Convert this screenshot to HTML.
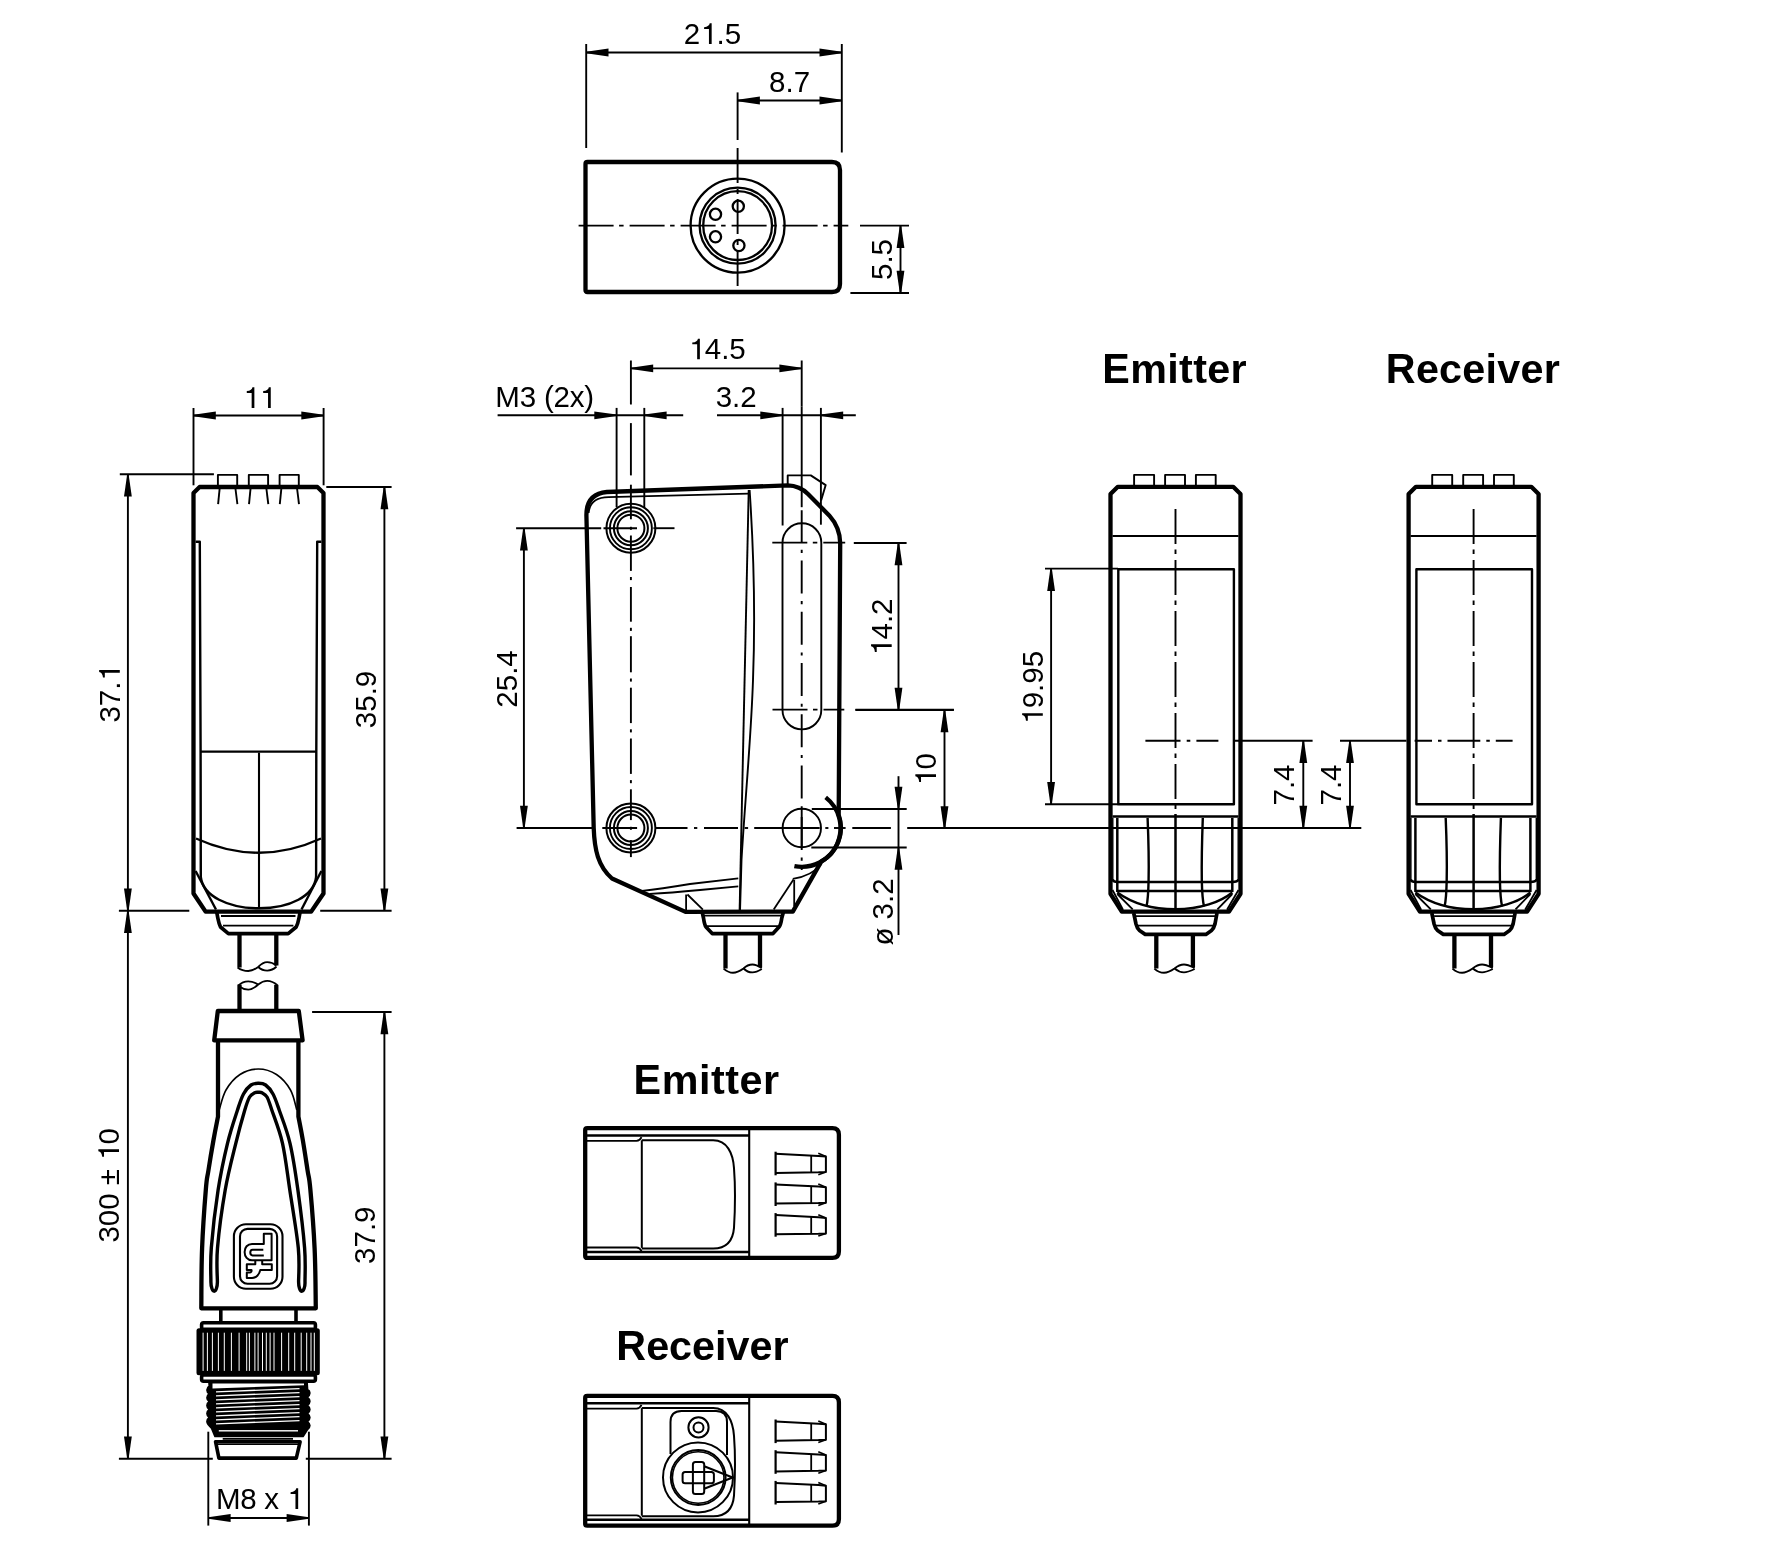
<!DOCTYPE html>
<html><head><meta charset="utf-8"><style>
html,body{margin:0;padding:0;background:#fff;overflow:hidden;}
svg{display:block;filter:grayscale(100%);}
text{font-family:"Liberation Sans",sans-serif;fill:#000;stroke:none;}
</style></head><body>
<svg width="1772" height="1559" viewBox="0 0 1772 1559" fill="none" stroke="#000" stroke-linejoin="round">
<rect x="0" y="0" width="1772" height="1559" fill="#fff" stroke="none"/>
<line x1="586.20" y1="44.00" x2="586.20" y2="148.00" stroke-width="1.9" />
<line x1="841.80" y1="44.00" x2="841.80" y2="152.50" stroke-width="1.9" />
<line x1="586.20" y1="52.50" x2="841.80" y2="52.50" stroke-width="1.9" />
<polygon points="586.20,51.80 608.50,48.60 608.50,56.40 586.20,53.20" fill="#000" stroke="none"/>
<polygon points="841.80,51.80 819.50,48.60 819.50,56.40 841.80,53.20" fill="#000" stroke="none"/>
<g transform="translate(712.40,44.00) scale(1,1.0)"><text x="-28.70" y="0" font-size="29.5">2 .5</text><path transform="translate(-12.30,0) scale(29.5)" d="M0.300,0 L0.392,0 L0.392,-0.70 L0.327,-0.70 C0.312,-0.632 0.262,-0.578 0.135,-0.570 L0.135,-0.508 L0.300,-0.508 Z" fill="#000" stroke="none"/></g>
<line x1="737.60" y1="92.40" x2="737.60" y2="140.00" stroke-width="1.9" />
<line x1="737.60" y1="100.50" x2="841.80" y2="100.50" stroke-width="1.9" />
<polygon points="737.60,99.80 759.90,96.60 759.90,104.40 737.60,101.20" fill="#000" stroke="none"/>
<polygon points="841.80,99.80 819.50,96.60 819.50,104.40 841.80,101.20" fill="#000" stroke="none"/>
<g transform="translate(789.60,91.80) scale(1,1.0)"><text x="-20.50" y="0" font-size="29.5">8.7</text></g>
<path d="M587.5,162 L832,162 Q840,162 840,170 L840,284 Q840,292 832,292 L587.5,292 Q585.5,292 585.5,290 L585.5,164 Q585.5,162 587.5,162 Z" stroke-width="4.3" />
<line x1="578.60" y1="225.60" x2="848.30" y2="225.60" stroke-width="1.9" stroke-dasharray="35 5.5 4.5 6" stroke-dashoffset="0"/>
<line x1="737.60" y1="148.00" x2="737.60" y2="183.00" stroke-width="1.9" />
<line x1="737.60" y1="189.00" x2="737.60" y2="194.00" stroke-width="1.9" />
<line x1="737.60" y1="199.00" x2="737.60" y2="234.00" stroke-width="1.9" />
<line x1="737.60" y1="240.00" x2="737.60" y2="245.00" stroke-width="1.9" />
<line x1="737.60" y1="251.00" x2="737.60" y2="286.00" stroke-width="1.9" />
<line x1="737.60" y1="291.00" x2="737.60" y2="294.00" stroke-width="1.9" />
<circle cx="737.60" cy="225.60" r="47.00" stroke-width="2.3"/>
<circle cx="737.60" cy="225.60" r="38.00" stroke-width="2.3"/>
<circle cx="737.60" cy="225.60" r="34.40" stroke-width="2.3"/>
<circle cx="738.30" cy="206.30" r="5.60" stroke-width="2.3"/>
<circle cx="715.50" cy="214.30" r="5.60" stroke-width="2.3"/>
<circle cx="715.50" cy="236.80" r="5.60" stroke-width="2.3"/>
<circle cx="738.90" cy="245.50" r="5.60" stroke-width="2.3"/>
<line x1="860.00" y1="225.60" x2="909.00" y2="225.60" stroke-width="1.9" />
<line x1="850.40" y1="293.00" x2="909.00" y2="293.00" stroke-width="1.9" />
<line x1="900.50" y1="225.60" x2="900.50" y2="293.00" stroke-width="1.9" />
<polygon points="899.80,225.60 896.60,247.90 904.40,247.90 901.20,225.60" fill="#000" stroke="none"/>
<polygon points="899.80,293.00 896.60,270.70 904.40,270.70 901.20,293.00" fill="#000" stroke="none"/>
<g transform="translate(892.00,259.50) rotate(-90) scale(1,1.0)"><text x="-20.50" y="0" font-size="29.5">5.5</text></g>
<line x1="193.50" y1="408.00" x2="193.50" y2="485.30" stroke-width="1.9" />
<line x1="323.60" y1="408.00" x2="323.60" y2="485.30" stroke-width="1.9" />
<line x1="193.50" y1="415.50" x2="323.60" y2="415.50" stroke-width="1.9" />
<polygon points="193.50,414.80 215.80,411.60 215.80,419.40 193.50,416.20" fill="#000" stroke="none"/>
<polygon points="323.60,414.80 301.30,411.60 301.30,419.40 323.60,416.20" fill="#000" stroke="none"/>
<g transform="translate(259.20,407.90) scale(1,1.0)"><text x="-16.40" y="0" font-size="29.5">  </text><path transform="translate(-16.40,0) scale(29.5)" d="M0.300,0 L0.392,0 L0.392,-0.70 L0.327,-0.70 C0.312,-0.632 0.262,-0.578 0.135,-0.570 L0.135,-0.508 L0.300,-0.508 Z" fill="#000" stroke="none"/><path transform="translate(0.00,0) scale(29.5)" d="M0.300,0 L0.392,0 L0.392,-0.70 L0.327,-0.70 C0.312,-0.632 0.262,-0.578 0.135,-0.570 L0.135,-0.508 L0.300,-0.508 Z" fill="#000" stroke="none"/></g>
<line x1="119.80" y1="474.20" x2="213.90" y2="474.20" stroke-width="1.9" />
<line x1="326.30" y1="487.00" x2="391.60" y2="487.00" stroke-width="1.9" />
<line x1="118.90" y1="910.70" x2="189.30" y2="910.70" stroke-width="1.9" />
<line x1="320.20" y1="910.70" x2="391.60" y2="910.70" stroke-width="1.9" />
<line x1="127.90" y1="474.20" x2="127.90" y2="910.70" stroke-width="1.9" />
<polygon points="127.20,474.20 124.00,496.50 131.80,496.50 128.60,474.20" fill="#000" stroke="none"/>
<polygon points="127.20,910.70 124.00,888.40 131.80,888.40 128.60,910.70" fill="#000" stroke="none"/>
<g transform="translate(119.80,693.90) rotate(-90) scale(1,1.0)"><text x="-28.70" y="0" font-size="29.5">37. </text><path transform="translate(12.30,0) scale(29.5)" d="M0.300,0 L0.392,0 L0.392,-0.70 L0.327,-0.70 C0.312,-0.632 0.262,-0.578 0.135,-0.570 L0.135,-0.508 L0.300,-0.508 Z" fill="#000" stroke="none"/></g>
<line x1="384.40" y1="487.00" x2="384.40" y2="910.70" stroke-width="1.9" />
<polygon points="383.70,487.00 380.50,509.30 388.30,509.30 385.10,487.00" fill="#000" stroke="none"/>
<polygon points="383.70,910.70 380.50,888.40 388.30,888.40 385.10,910.70" fill="#000" stroke="none"/>
<g transform="translate(376.00,699.50) rotate(-90) scale(1,1.0)"><text x="-28.70" y="0" font-size="29.5">35.9</text></g>
<line x1="127.90" y1="910.70" x2="127.90" y2="1458.80" stroke-width="1.9" />
<polygon points="127.20,910.70 124.00,933.00 131.80,933.00 128.60,910.70" fill="#000" stroke="none"/>
<polygon points="127.20,1458.80 124.00,1436.50 131.80,1436.50 128.60,1458.80" fill="#000" stroke="none"/>
<g transform="translate(119.00,1185.30) rotate(-90) scale(1,1.0)"><text x="-57.30" y="0" font-size="29.5">300 ±  0</text><path transform="translate(24.50,0) scale(29.5)" d="M0.300,0 L0.392,0 L0.392,-0.70 L0.327,-0.70 C0.312,-0.632 0.262,-0.578 0.135,-0.570 L0.135,-0.508 L0.300,-0.508 Z" fill="#000" stroke="none"/></g>
<line x1="312.10" y1="1012.00" x2="391.60" y2="1012.00" stroke-width="1.9" />
<line x1="384.40" y1="1012.00" x2="384.40" y2="1458.80" stroke-width="1.9" />
<polygon points="383.70,1012.00 380.50,1034.30 388.30,1034.30 385.10,1012.00" fill="#000" stroke="none"/>
<polygon points="383.70,1458.80 380.50,1436.50 388.30,1436.50 385.10,1458.80" fill="#000" stroke="none"/>
<g transform="translate(375.30,1235.20) rotate(-90) scale(1,1.0)"><text x="-28.70" y="0" font-size="29.5">37.9</text></g>
<line x1="118.90" y1="1458.80" x2="212.80" y2="1458.80" stroke-width="1.9" />
<line x1="305.80" y1="1458.80" x2="391.60" y2="1458.80" stroke-width="1.9" />
<line x1="208.30" y1="1431.70" x2="208.30" y2="1525.60" stroke-width="1.9" />
<line x1="308.90" y1="1431.70" x2="308.90" y2="1525.60" stroke-width="1.9" />
<line x1="208.30" y1="1518.00" x2="308.90" y2="1518.00" stroke-width="1.9" />
<polygon points="208.30,1517.30 230.60,1514.10 230.60,1521.90 208.30,1518.70" fill="#000" stroke="none"/>
<polygon points="308.90,1517.30 286.60,1514.10 286.60,1521.90 308.90,1518.70" fill="#000" stroke="none"/>
<g transform="translate(259.50,1509.00) scale(1,1.0)"><text x="-43.51" y="0" font-size="29.5" letter-spacing="-0.3">M8 x  </text><path transform="translate(27.11,0) scale(29.5)" d="M0.300,0 L0.392,0 L0.392,-0.70 L0.327,-0.70 C0.312,-0.632 0.262,-0.578 0.135,-0.570 L0.135,-0.508 L0.300,-0.508 Z" fill="#000" stroke="none"/></g>
<path d="M193.5,893.5 L193.5,493 L199.6,487 L317.4,487 L323.5,493 L323.5,893.5 L311.2,911.6 L205.6,911.6 Z" stroke-width="4.3" />
<path d="M217.9,487 L217.9,474.9 L237.2,474.9 L237.2,487" stroke-width="1.9" />
<line x1="219.70" y1="488.00" x2="218.10" y2="504.20" stroke-width="1.9" />
<line x1="235.40" y1="488.00" x2="237.40" y2="504.20" stroke-width="1.9" />
<path d="M248.8,487 L248.8,474.9 L268.1,474.9 L268.1,487" stroke-width="1.9" />
<line x1="250.60" y1="488.00" x2="249.00" y2="504.20" stroke-width="1.9" />
<line x1="266.30" y1="488.00" x2="268.30" y2="504.20" stroke-width="1.9" />
<path d="M279.6,487 L279.6,474.9 L298.8,474.9 L298.8,487" stroke-width="1.9" />
<line x1="281.40" y1="488.00" x2="279.80" y2="504.20" stroke-width="1.9" />
<line x1="297.00" y1="488.00" x2="299.00" y2="504.20" stroke-width="1.9" />
<path d="M195.6,541.7 L199.8,541.7 L200.6,752 L200.8,877" stroke-width="2.4" />
<path d="M321.4,541.7 L317.2,541.7 L316.3,752 L316.1,877" stroke-width="2.4" />
<line x1="200.50" y1="751.60" x2="316.20" y2="751.60" stroke-width="2.3" />
<line x1="259.00" y1="752.60" x2="259.00" y2="908.50" stroke-width="2.0999999999999996" />
<path d="M196,838.5 Q259,867 321,838.5" stroke-width="2.3" />
<path d="M200.8,877 C203,896 228,908.3 259,908.3 C290,908.3 314,896 316.1,877" stroke-width="2.4" />
<line x1="195.60" y1="871.00" x2="216.00" y2="909.50" stroke-width="2.4" />
<line x1="321.40" y1="871.00" x2="301.50" y2="909.50" stroke-width="2.4" />
<path d="M216.8,912.5 L217.8,918 Q219,924 220.5,927 L228.4,933.6 L288.2,933.6 L296.2,927 Q297.8,924 299,918 L300,912.5" stroke-width="3.6999999999999997" />
<line x1="221.00" y1="916.00" x2="295.50" y2="916.00" stroke-width="1.9" />
<line x1="223.00" y1="925.60" x2="293.40" y2="925.60" stroke-width="1.9" />
<line x1="239.50" y1="933.00" x2="239.50" y2="967.50" stroke-width="4.3" />
<line x1="276.30" y1="933.00" x2="276.30" y2="965.50" stroke-width="4.3" />
<path d="M237.6,967.4 C241,970 244,971 248.3,971 C253,971 255,969 258.2,967 C261,964 264,962.1 267.2,962.1 C271,962.1 274,963.5 276.5,965.5 M258.2,967 C261,969.5 264,970.6 267.2,970.6 C271,970.6 274,969 276.5,966.5" stroke-width="1.9" />
<line x1="239.50" y1="984.50" x2="239.50" y2="1011.00" stroke-width="4.3" />
<line x1="276.30" y1="984.80" x2="276.30" y2="1011.00" stroke-width="4.3" />
<path d="M238.5,985.4 C241.5,982.5 244.5,981.4 248.3,981.4 C252,981.4 255,982.5 258.2,984.5 C261,982.3 264,980.9 267.2,980.9 C271,980.9 274,982.3 277.4,985.2 M239.3,986.5 C242,988.5 244.5,989.6 248.3,989.6 C252,989.6 255,987.5 258.2,984.5" stroke-width="1.9" />
<path d="M217.8,1011 L298.8,1011 L302.6,1040.4 L214.2,1040.4 Z" stroke-width="4.3" />
<path d="M218,1040.4 L218,1116.7 C217.10,1121.36 215.40,1129.34 213.50,1140.00 C211.60,1150.66 210.04,1160.00 208.50,1170.00 C206.96,1180.00 207.08,1174.34 205.80,1190.00 C204.52,1205.66 203.00,1224.64 202.10,1248.30 C201.20,1271.96 201.46,1296.30 201.30,1308.30 L315.8,1308.3  C315.56,1296.30 315.68,1271.96 314.60,1248.30 C313.52,1224.64 311.82,1205.66 310.40,1190.00 C308.98,1174.34 309.02,1180.00 307.50,1170.00 C305.98,1160.00 304.62,1150.66 302.80,1140.00 C300.98,1129.34 299.28,1121.36 298.40,1116.70 L298.4,1040.4" stroke-width="4.3" />
<path d="M219.20,1110.00 C220.33,1106.67 222.53,1095.92 226.00,1090.00 C229.47,1084.08 234.62,1078.00 240.00,1074.50 C245.38,1071.00 252.22,1069.00 258.30,1069.00 C264.38,1069.00 271.13,1071.00 276.50,1074.50 C281.87,1078.00 287.12,1084.08 290.50,1090.00 C293.88,1095.92 295.75,1106.67 296.80,1110.00" stroke-width="1.6" />
<path d="M210.90,1282.00 C210.97,1276.33 210.10,1263.33 211.30,1248.00 C212.50,1232.67 215.40,1207.45 218.10,1190.00 C220.80,1172.55 224.27,1156.63 227.50,1143.30 C230.73,1129.97 234.83,1118.22 237.50,1110.00 C240.17,1101.78 241.25,1098.17 243.50,1094.00 C245.75,1089.83 248.53,1086.78 251.00,1085.00 C253.47,1083.22 255.87,1083.30 258.30,1083.30 C260.73,1083.30 263.15,1083.22 265.60,1085.00 C268.05,1086.78 270.73,1089.83 273.00,1094.00 C275.27,1098.17 276.37,1101.78 279.20,1110.00 C282.03,1118.22 286.88,1129.97 290.00,1143.30 C293.12,1156.63 295.47,1172.55 297.90,1190.00 C300.33,1207.45 303.42,1232.67 304.60,1248.00 C305.78,1263.33 304.93,1276.33 305.00,1282.00 C305.2,1287 303.5,1291.2 301.8,1291.2 C300,1291.2 298.6,1287 298.6,1282 C298.55,1276.33 299.77,1263.33 298.30,1248.00 C296.83,1232.67 292.43,1207.45 289.80,1190.00 C287.17,1172.55 285.50,1156.63 282.50,1143.30 C279.50,1129.97 274.38,1117.72 271.80,1110.00 C269.22,1102.28 268.63,1099.87 267.00,1097.00 C265.37,1094.13 263.45,1093.58 262.00,1092.80 C260.55,1092.02 259.53,1092.30 258.30,1092.30 C257.07,1092.30 256.05,1092.02 254.60,1092.80 C253.15,1093.58 251.23,1094.13 249.60,1097.00 C247.97,1099.87 247.10,1102.28 244.80,1110.00 C242.50,1117.72 239.07,1129.97 235.80,1143.30 C232.53,1156.63 228.25,1172.55 225.20,1190.00 C222.15,1207.45 218.80,1232.67 217.50,1248.00 C216.20,1263.33 217.42,1276.33 217.40,1282.00 C217.4,1287 215.8,1291.2 214.2,1291.2 C212.5,1291.2 210.9,1287 210.9,1282 Z" stroke-width="3.4" />
<rect x="233.90" y="1224.30" width="48.60" height="64.50" rx="12" stroke-width="2.1"/>
<rect x="240.00" y="1228.90" width="37.10" height="54.90" rx="7.5" stroke-width="2.1"/>
<path d="M263.8,1233.8 L271.6,1233.8 L271.6,1260.3 L252,1260.3 C247.5,1260.3 244.6,1256.5 244.6,1252 C244.6,1247.5 247.5,1243.9 252,1243.9 L263.8,1243.9 Z M263.3,1249.8 L252.5,1249.8 C251,1249.8 250.3,1251 250.3,1252.6 C250.3,1254.2 251,1255.4 252.5,1255.4 L263.8,1255.4" stroke-width="2.0" />
<path d="M255.3,1260.3 L255.3,1264.2 L246.8,1264.2 L246.8,1269.9 L251.5,1269.9 C251.8,1271.3 251.2,1272.6 249.5,1272.6 L246.8,1272.6 L246.8,1278 L252,1278 C256,1278 259.5,1274.5 260.3,1269.9 L271.8,1269.9 L271.8,1264.2 L262.2,1264.2 L262.2,1260.3" stroke-width="2.0" />
<line x1="220.80" y1="1310.00" x2="220.80" y2="1322.00" stroke-width="3.6" />
<line x1="296.00" y1="1310.00" x2="296.00" y2="1322.00" stroke-width="3.6" />
<rect x="201.60" y="1322.80" width="113.80" height="6.50" rx="2" stroke-width="3.6"/>
<rect x="196.5" y="1328.3" width="123.3" height="47" rx="2.5" fill="#000" stroke="none"/>
<line x1="203.10" y1="1332.70" x2="203.10" y2="1370.90" stroke-width="1.0" stroke="#fff"/>
<line x1="207.40" y1="1332.70" x2="207.40" y2="1370.90" stroke-width="1.0" stroke="#fff"/>
<line x1="212.40" y1="1332.70" x2="212.40" y2="1370.90" stroke-width="1.0" stroke="#fff"/>
<line x1="218.40" y1="1332.70" x2="218.40" y2="1370.90" stroke-width="1.0" stroke="#fff"/>
<line x1="224.30" y1="1332.70" x2="224.30" y2="1370.90" stroke-width="1.0" stroke="#fff"/>
<line x1="231.40" y1="1332.70" x2="231.40" y2="1370.90" stroke-width="1.0" stroke="#fff"/>
<line x1="239.10" y1="1332.70" x2="239.10" y2="1370.90" stroke-width="1.0" stroke="#fff"/>
<line x1="246.70" y1="1332.70" x2="246.70" y2="1370.90" stroke-width="1.0" stroke="#fff"/>
<line x1="249.40" y1="1332.70" x2="249.40" y2="1370.90" stroke-width="1.0" stroke="#fff"/>
<line x1="254.90" y1="1332.70" x2="254.90" y2="1370.90" stroke-width="1.0" stroke="#fff"/>
<line x1="258.10" y1="1332.70" x2="258.10" y2="1370.90" stroke-width="1.0" stroke="#fff"/>
<line x1="262.50" y1="1332.70" x2="262.50" y2="1370.90" stroke-width="1.0" stroke="#fff"/>
<line x1="266.30" y1="1332.70" x2="266.30" y2="1370.90" stroke-width="1.0" stroke="#fff"/>
<line x1="270.10" y1="1332.70" x2="270.10" y2="1370.90" stroke-width="1.0" stroke="#fff"/>
<line x1="274.00" y1="1332.70" x2="274.00" y2="1370.90" stroke-width="1.0" stroke="#fff"/>
<line x1="281.60" y1="1332.70" x2="281.60" y2="1370.90" stroke-width="1.0" stroke="#fff"/>
<line x1="288.70" y1="1332.70" x2="288.70" y2="1370.90" stroke-width="1.0" stroke="#fff"/>
<line x1="294.70" y1="1332.70" x2="294.70" y2="1370.90" stroke-width="1.0" stroke="#fff"/>
<line x1="301.20" y1="1332.70" x2="301.20" y2="1370.90" stroke-width="1.0" stroke="#fff"/>
<line x1="306.70" y1="1332.70" x2="306.70" y2="1370.90" stroke-width="1.0" stroke="#fff"/>
<line x1="311.00" y1="1332.70" x2="311.00" y2="1370.90" stroke-width="1.0" stroke="#fff"/>
<line x1="314.30" y1="1332.70" x2="314.30" y2="1370.90" stroke-width="1.0" stroke="#fff"/>
<rect x="201.60" y="1375.00" width="113.80" height="6.30" rx="2" stroke-width="3.6"/>
<path d="M209,1382 L307,1382 L307.5,1389.5 Q309.8,1390.8 309.8,1393 Q309.8,1395.4 307.3,1397.1 Q309.8,1399.1 309.8,1401.3 Q309.8,1403.7 307.3,1405.3999999999999 Q309.8,1407.2 309.8,1409.4 Q309.8,1411.8000000000002 307.3,1413.5 Q309.8,1415.3999999999999 309.8,1417.6 Q309.8,1420.0 307.3,1421.6999999999998 Q309.8,1423.3999999999999 309.8,1425.6 Q309.8,1428.0 307.3,1429.6999999999998 L303,1436.4 L215,1436.4 L211.5,1428 Q207,1423.9 207,1421.5 Q207,1419.3 209.3,1417.5 Q207,1415.9 207,1413.5 Q207,1411.3 209.3,1409.5 Q207,1407.9 207,1405.5 Q207,1403.3 209.3,1401.5 Q207,1400.1000000000001 207,1397.7 Q207,1395.5 209.3,1393.7 Q207,1392.4 207,1390 Q207,1387.8 209.3,1386 Z" fill="#000" stroke="#000" stroke-width="1.8"/>
<polygon points="212.5,1383.4 304,1383.4 304,1385.2 212.5,1388.6" fill="#fff" stroke="none"/>
<polygon points="216,1391.20 299.5,1387.90 299.5,1389.30 216,1392.60" fill="#fff" stroke="none"/>
<polygon points="216,1395.20 299.5,1391.90 299.5,1393.30 216,1396.60" fill="#fff" stroke="none"/>
<polygon points="216,1399.20 299.5,1395.90 299.5,1397.30 216,1400.60" fill="#fff" stroke="none"/>
<polygon points="216,1403.20 299.5,1399.90 299.5,1401.30 216,1404.60" fill="#fff" stroke="none"/>
<polygon points="216,1407.20 299.5,1403.90 299.5,1405.30 216,1408.60" fill="#fff" stroke="none"/>
<polygon points="216,1411.20 299.5,1407.90 299.5,1409.30 216,1412.60" fill="#fff" stroke="none"/>
<polygon points="216,1415.20 299.5,1411.90 299.5,1413.30 216,1416.60" fill="#fff" stroke="none"/>
<polygon points="216,1419.20 299.5,1415.90 299.5,1417.30 216,1420.60" fill="#fff" stroke="none"/>
<polygon points="216,1423.20 299.5,1419.90 299.5,1421.30 216,1424.60" fill="#fff" stroke="none"/>
<rect x="218.8" y="1430.1" width="79.2" height="1.4" fill="#fff" stroke="none"/>
<line x1="222.70" y1="1438.90" x2="293.00" y2="1438.90" stroke-width="1.6" />
<path d="M215.6,1441.8 L300.1,1441.8 L296.3,1458.1 L218.9,1458.1 Z" stroke-width="3.6" />
<line x1="217.00" y1="1444.20" x2="299.00" y2="1444.20" stroke-width="1.5" />
<line x1="630.90" y1="360.50" x2="630.90" y2="404.50" stroke-width="1.9" />
<line x1="801.70" y1="360.50" x2="801.70" y2="406.70" stroke-width="1.9" />
<line x1="630.90" y1="368.40" x2="801.70" y2="368.40" stroke-width="1.9" />
<polygon points="630.90,367.70 653.20,364.50 653.20,372.30 630.90,369.10" fill="#000" stroke="none"/>
<polygon points="801.70,367.70 779.40,364.50 779.40,372.30 801.70,369.10" fill="#000" stroke="none"/>
<g transform="translate(717.00,359.30) scale(1,1.0)"><text x="-28.70" y="0" font-size="29.5"> 4.5</text><path transform="translate(-28.70,0) scale(29.5)" d="M0.300,0 L0.392,0 L0.392,-0.70 L0.327,-0.70 C0.312,-0.632 0.262,-0.578 0.135,-0.570 L0.135,-0.508 L0.300,-0.508 Z" fill="#000" stroke="none"/></g>
<g transform="translate(495.30,406.70) scale(1,1.0)"><text x="0.00" y="0" font-size="29.5" letter-spacing="-0.2">M3 (2x)</text></g>
<line x1="497.60" y1="415.30" x2="683.20" y2="415.30" stroke-width="1.9" />
<polygon points="616.60,414.60 594.30,411.40 594.30,419.20 616.60,416.00" fill="#000" stroke="none"/>
<polygon points="644.30,414.60 666.60,411.40 666.60,419.20 644.30,416.00" fill="#000" stroke="none"/>
<line x1="616.60" y1="407.90" x2="616.60" y2="507.00" stroke-width="1.9" />
<line x1="644.30" y1="407.90" x2="644.30" y2="507.00" stroke-width="1.9" />
<g transform="translate(736.20,406.70) scale(1,1.0)"><text x="-20.50" y="0" font-size="29.5">3.2</text></g>
<line x1="717.00" y1="415.30" x2="855.80" y2="415.30" stroke-width="1.9" />
<polygon points="782.60,414.60 760.30,411.40 760.30,419.20 782.60,416.00" fill="#000" stroke="none"/>
<polygon points="820.90,414.60 843.20,411.40 843.20,419.20 820.90,416.00" fill="#000" stroke="none"/>
<line x1="782.60" y1="407.90" x2="782.60" y2="525.50" stroke-width="1.9" />
<line x1="820.90" y1="407.90" x2="820.90" y2="524.70" stroke-width="1.9" />
<line x1="516.10" y1="528.20" x2="601.20" y2="528.20" stroke-width="1.9" />
<line x1="603.50" y1="528.20" x2="637.00" y2="528.20" stroke-width="1.9" />
<line x1="653.40" y1="528.20" x2="674.50" y2="528.20" stroke-width="1.9" />
<line x1="516.60" y1="828.00" x2="592.40" y2="828.00" stroke-width="1.9" />
<line x1="602.30" y1="828.00" x2="637.10" y2="828.00" stroke-width="1.9" />
<line x1="655.70" y1="828.00" x2="687.50" y2="828.00" stroke-width="1.9" />
<line x1="694.00" y1="828.00" x2="697.30" y2="828.00" stroke-width="1.9" />
<line x1="704.00" y1="828.00" x2="738.00" y2="828.00" stroke-width="1.9" />
<line x1="744.60" y1="828.00" x2="748.10" y2="828.00" stroke-width="1.9" />
<line x1="754.20" y1="828.00" x2="819.70" y2="828.00" stroke-width="1.9" />
<line x1="825.30" y1="828.00" x2="828.40" y2="828.00" stroke-width="1.9" />
<line x1="834.00" y1="828.00" x2="845.60" y2="828.00" stroke-width="1.9" />
<line x1="852.30" y1="828.00" x2="890.90" y2="828.00" stroke-width="1.9" />
<line x1="523.90" y1="528.20" x2="523.90" y2="828.00" stroke-width="1.9" />
<polygon points="523.20,528.20 520.00,550.50 527.80,550.50 524.60,528.20" fill="#000" stroke="none"/>
<polygon points="523.20,828.00 520.00,805.70 527.80,805.70 524.60,828.00" fill="#000" stroke="none"/>
<g transform="translate(516.60,679.00) rotate(-90) scale(1,1.0)"><text x="-28.70" y="0" font-size="29.5">25.4</text></g>
<line x1="853.80" y1="543.00" x2="906.60" y2="543.00" stroke-width="1.9" />
<line x1="855.40" y1="710.00" x2="953.90" y2="710.00" stroke-width="1.9" />
<line x1="898.50" y1="543.00" x2="898.50" y2="710.00" stroke-width="1.9" />
<polygon points="897.80,543.00 894.60,565.30 902.40,565.30 899.20,543.00" fill="#000" stroke="none"/>
<polygon points="897.80,710.00 894.60,687.70 902.40,687.70 899.20,710.00" fill="#000" stroke="none"/>
<g transform="translate(891.70,627.20) rotate(-90) scale(1,1.0)"><text x="-28.70" y="0" font-size="29.5"> 4.2</text><path transform="translate(-28.70,0) scale(29.5)" d="M0.300,0 L0.392,0 L0.392,-0.70 L0.327,-0.70 C0.312,-0.632 0.262,-0.578 0.135,-0.570 L0.135,-0.508 L0.300,-0.508 Z" fill="#000" stroke="none"/></g>
<line x1="944.50" y1="710.00" x2="944.50" y2="828.50" stroke-width="1.9" />
<polygon points="943.80,710.00 940.60,732.30 948.40,732.30 945.20,710.00" fill="#000" stroke="none"/>
<polygon points="943.80,828.50 940.60,806.20 948.40,806.20 945.20,828.50" fill="#000" stroke="none"/>
<g transform="translate(936.00,769.50) rotate(-90) scale(1,1.0)"><text x="-16.40" y="0" font-size="29.5"> 0</text><path transform="translate(-16.40,0) scale(29.5)" d="M0.300,0 L0.392,0 L0.392,-0.70 L0.327,-0.70 C0.312,-0.632 0.262,-0.578 0.135,-0.570 L0.135,-0.508 L0.300,-0.508 Z" fill="#000" stroke="none"/></g>
<line x1="811.80" y1="809.00" x2="906.70" y2="809.00" stroke-width="1.9" />
<line x1="811.30" y1="847.50" x2="906.70" y2="847.50" stroke-width="1.9" />
<line x1="898.50" y1="776.20" x2="898.50" y2="935.00" stroke-width="1.9" />
<polygon points="897.80,809.00 894.60,786.70 902.40,786.70 899.20,809.00" fill="#000" stroke="none"/>
<polygon points="897.80,847.50 894.60,869.80 902.40,869.80 899.20,847.50" fill="#000" stroke="none"/>
<g transform="translate(893.00,912.00) rotate(-90) scale(1,1.0)"><text x="-33.62" y="0" font-size="29.5">ø 3.2</text></g>
<path d="M606.8,492 L787.7,485.4 C796,485.6 802,488 808,494 L829.2,515.4 C836,523 840,532 840.2,543 L838.7,814.86 A38.8,38.8 0 0 1 821.20,861.60 L792.8,911.6 L685.5,911.9 L612,878.5 C598,866 594.5,850 593.7,828 L586.4,515 Q586.4,494 606.8,492 Z" stroke-width="4.3" />
<path d="M825.69,797.43 A38.8,38.8 0 0 1 794.40,866.09" stroke-width="4.3" />
<path d="M588.6,513 Q590,497.5 608.5,497.2 L748.7,493.6" stroke-width="1.8" />
<line x1="748.70" y1="490.00" x2="739.60" y2="911.00" stroke-width="1.9" />
<path d="M749.6,490 C753,540 756,600 753,680 C751,740 745,800 741.5,860 L740,911" stroke-width="1.9" />
<path d="M642,890.8 Q660,889 690,884 L738.3,878.3" stroke-width="1.8" />
<path d="M649.5,893.9 Q670,893 700,890 L738.3,886.4" stroke-width="1.8" />
<line x1="686.10" y1="894.50" x2="686.10" y2="911.90" stroke-width="1.8" />
<line x1="687.40" y1="894.50" x2="702.90" y2="909.60" stroke-width="1.8" />
<line x1="773.70" y1="909.60" x2="793.50" y2="879.60" stroke-width="1.8" />
<line x1="794.20" y1="880.00" x2="794.20" y2="906.00" stroke-width="1.8" />
<path d="M821.5,864 Q812,876 792.8,878.8" stroke-width="1.8" />
<path d="M787.7,486 L787.7,475.4 L810.8,475.4 L825.7,485.1 L821.1,500.5" stroke-width="1.9" />
<circle cx="630.90" cy="528.20" r="24.50" stroke-width="2.0"/>
<circle cx="630.90" cy="528.20" r="21.00" stroke-width="1.9"/>
<circle cx="630.90" cy="528.20" r="17.00" stroke-width="2.0"/>
<circle cx="630.90" cy="528.20" r="13.50" stroke-width="2.0"/>
<circle cx="630.90" cy="828.00" r="24.50" stroke-width="2.0"/>
<circle cx="630.90" cy="828.00" r="21.00" stroke-width="1.9"/>
<circle cx="630.90" cy="828.00" r="17.00" stroke-width="2.0"/>
<circle cx="630.90" cy="828.00" r="13.50" stroke-width="2.0"/>
<rect x="782.50" y="523.30" width="38.80" height="206.10" rx="19.4" stroke-width="1.9"/>
<circle cx="801.80" cy="828.00" r="19.20" stroke-width="1.9"/>
<line x1="630.90" y1="423.10" x2="630.90" y2="475.40" stroke-width="1.9" />
<line x1="630.90" y1="484.70" x2="630.90" y2="519.30" stroke-width="1.9" />
<line x1="630.90" y1="526.80" x2="630.90" y2="529.80" stroke-width="1.9" />
<line x1="630.90" y1="535.50" x2="630.90" y2="570.90" stroke-width="1.9" />
<line x1="630.90" y1="577.00" x2="630.90" y2="580.10" stroke-width="1.9" />
<line x1="630.90" y1="587.00" x2="630.90" y2="621.70" stroke-width="1.9" />
<line x1="630.90" y1="627.80" x2="630.90" y2="630.90" stroke-width="1.9" />
<line x1="630.90" y1="636.20" x2="630.90" y2="672.30" stroke-width="1.9" />
<line x1="630.90" y1="678.50" x2="630.90" y2="681.60" stroke-width="1.9" />
<line x1="630.90" y1="687.70" x2="630.90" y2="723.10" stroke-width="1.9" />
<line x1="630.90" y1="729.30" x2="630.90" y2="732.40" stroke-width="1.9" />
<line x1="630.90" y1="738.50" x2="630.90" y2="773.90" stroke-width="1.9" />
<line x1="630.90" y1="780.10" x2="630.90" y2="783.20" stroke-width="1.9" />
<line x1="630.90" y1="789.30" x2="630.90" y2="820.10" stroke-width="1.9" />
<line x1="630.90" y1="826.80" x2="630.90" y2="829.80" stroke-width="1.9" />
<line x1="630.90" y1="840.10" x2="630.90" y2="857.10" stroke-width="1.9" />
<line x1="801.70" y1="406.70" x2="801.70" y2="507.20" stroke-width="1.9" />
<line x1="801.70" y1="510.30" x2="801.70" y2="870.00" stroke-width="1.9" stroke-dasharray="33 7.7 3.1 7.5" stroke-dashoffset="1.2"/>
<line x1="772.30" y1="542.60" x2="845.20" y2="542.60" stroke-width="1.9" stroke-dasharray="35 5.5 4.5 6" stroke-dashoffset="0"/>
<line x1="772.50" y1="709.60" x2="844.30" y2="709.60" stroke-width="1.9" stroke-dasharray="35 5.5 4.5 6" stroke-dashoffset="0"/>
<line x1="855.40" y1="709.60" x2="953.90" y2="709.60" stroke-width="1.9" />
<line x1="801.70" y1="809.00" x2="801.70" y2="847.00" stroke-width="1.9" />
<line x1="907.20" y1="828.00" x2="1361.30" y2="828.00" stroke-width="1.9" />
<path d="M702.3,912.5 L703.5,918 Q704.5,925 706,927 L712.2,933.6 L773,933.6 L779,927 Q780.8,925 781.8,918 L783.3,912.5" stroke-width="3.6999999999999997" />
<line x1="704.00" y1="915.60" x2="782.00" y2="915.60" stroke-width="1.7" />
<line x1="705.50" y1="926.10" x2="780.50" y2="926.10" stroke-width="1.7" />
<line x1="725.50" y1="935.00" x2="725.50" y2="968.50" stroke-width="4.3" />
<line x1="760.00" y1="935.00" x2="760.00" y2="967.00" stroke-width="4.3" />
<path d="M723.6,968.6 C727,971.5 729.5,972.8 733,972.8 C737,972.8 740,971 743.5,968.5 C746,966 749,964.5 752.5,964.5 C756,964.5 758.5,966 761.8,968 M743.5,968.5 C746,971 749,972.4 752.5,972.4 C756,972.4 758.5,971 761.8,969" stroke-width="1.9" />
<text transform="translate(1102.34,383.20) scale(1,1.033)" font-size="41.3" font-weight="bold">E</text>
<text x="1130.21" y="383.20" font-size="41.3" font-weight="bold" letter-spacing="0.329">mitter</text>
<path d="M1110.5,893.8 L1110.5,494 L1117.8,486.8 L1233.2,486.8 L1240.5,494 L1240.5,893.8 L1229.0,911.7 L1121.8,911.7 Z" stroke-width="4.3" />
<path d="M1134.10,486.8 L1134.10,474.9 L1154.10,474.9 L1154.10,486.8" stroke-width="1.9" />
<path d="M1165.10,486.8 L1165.10,474.9 L1185.00,474.9 L1185.00,486.8" stroke-width="1.9" />
<path d="M1195.90,486.8 L1195.90,474.9 L1215.70,474.9 L1215.70,486.8" stroke-width="1.9" />
<line x1="1112.50" y1="535.90" x2="1238.50" y2="535.90" stroke-width="1.9999999999999998" />
<rect x="1118.30" y="569.20" width="115.60" height="235.00" rx="0" stroke-width="2.4"/>
<line x1="1175.50" y1="509.10" x2="1175.50" y2="814.00" stroke-width="1.9" stroke-dasharray="35 5.5 4.5 6" stroke-dashoffset="0"/>
<line x1="1145.40" y1="740.80" x2="1218.40" y2="740.80" stroke-width="1.9" stroke-dasharray="35.1 6.2 3.6 6.1"/>
<line x1="1112.50" y1="816.50" x2="1238.50" y2="816.50" stroke-width="2.5" />
<line x1="1112.80" y1="818.00" x2="1112.80" y2="880.00" stroke-width="1.4" />
<line x1="1238.20" y1="818.00" x2="1238.20" y2="880.00" stroke-width="1.4" />
<line x1="1117.30" y1="818.00" x2="1117.30" y2="892.00" stroke-width="2.5" />
<line x1="1232.30" y1="818.00" x2="1232.30" y2="892.00" stroke-width="2.5" />
<path d="M1147.6,818 C1148.5,840 1149.0,860 1148.6,880 C1148.3,895 1147.5,902 1146.5,906.5" stroke-width="2.4" />
<path d="M1202.8,818 C1202.0,840 1201.5,860 1201.8,880 C1202.1,895 1203.0,902 1204.0,906.5" stroke-width="2.4" />
<line x1="1175.50" y1="814.00" x2="1175.50" y2="909.30" stroke-width="2.5" />
<path d="M1112.5,879.5 Q1113.5,881.9 1117.3,881.9 L1232.3,881.9 Q1237.5,881.9 1238.5,879.5" stroke-width="2.5" />
<line x1="1117.30" y1="891.00" x2="1232.30" y2="891.00" stroke-width="2.5" />
<path d="M1117.3,892.5 C1130.5,902 1150.5,909.3 1175.5,909.3 C1200.5,909.3 1220.5,902 1232.3,892.5" stroke-width="2.4" />
<line x1="1112.50" y1="890.00" x2="1123.10" y2="909.80" stroke-width="1.8" />
<line x1="1117.30" y1="894.00" x2="1132.70" y2="909.30" stroke-width="1.8" />
<line x1="1238.50" y1="890.00" x2="1227.00" y2="909.80" stroke-width="1.8" />
<line x1="1232.30" y1="894.00" x2="1217.40" y2="909.30" stroke-width="1.8" />
<path d="M1133.7,913 L1136.0,924 Q1137.0,928 1139.5,930.5 L1145.2,934.4 L1205.9,934.4 L1211.5,930.5 Q1214.0,928 1215.0,924 L1217.0,913" stroke-width="3.6999999999999997" />
<line x1="1136.00" y1="916.10" x2="1215.00" y2="916.10" stroke-width="1.7" />
<line x1="1138.00" y1="925.70" x2="1213.00" y2="925.70" stroke-width="1.7" />
<line x1="1156.30" y1="935.00" x2="1156.30" y2="968.50" stroke-width="4.3" />
<line x1="1192.90" y1="935.00" x2="1192.90" y2="967.00" stroke-width="4.3" />
<path d="M1154.4,968.6 C1157.5,971.5 1160.5,972.8 1164.0,972.8 C1168.0,972.8 1171.0,971 1174.5,968.5 C1177.5,966 1180.5,964.5 1184.0,964.5 C1187.5,964.5 1190.5,966 1194.7,968 M1174.5,968.5 C1177.5,971 1180.5,972.4 1184.0,972.4 C1187.5,972.4 1190.5,971 1194.7,969" stroke-width="1.9" />
<text transform="translate(1385.84,383.20) scale(1,1.033)" font-size="41.3" font-weight="bold">R</text>
<text x="1415.91" y="383.20" font-size="41.3" font-weight="bold" letter-spacing="0.249">eceiver</text>
<path d="M1408.6,893.8 L1408.6,494 L1415.8999999999999,486.8 L1531.3,486.8 L1538.6,494 L1538.6,893.8 L1527.1,911.7 L1419.8999999999999,911.7 Z" stroke-width="4.3" />
<path d="M1432.20,486.8 L1432.20,474.9 L1452.20,474.9 L1452.20,486.8" stroke-width="1.9" />
<path d="M1463.20,486.8 L1463.20,474.9 L1483.10,474.9 L1483.10,486.8" stroke-width="1.9" />
<path d="M1494.00,486.8 L1494.00,474.9 L1513.80,474.9 L1513.80,486.8" stroke-width="1.9" />
<line x1="1410.60" y1="535.90" x2="1536.60" y2="535.90" stroke-width="1.9999999999999998" />
<rect x="1416.40" y="569.20" width="115.60" height="235.00" rx="0" stroke-width="2.4"/>
<line x1="1473.60" y1="509.10" x2="1473.60" y2="814.00" stroke-width="1.9" stroke-dasharray="35 5.5 4.5 6" stroke-dashoffset="0"/>
<line x1="1414.60" y1="740.80" x2="1512.60" y2="740.80" stroke-width="1.9" stroke-dasharray="32.8 6 3.5 6" stroke-dashoffset="15.4"/>
<line x1="1410.60" y1="816.50" x2="1536.60" y2="816.50" stroke-width="2.5" />
<line x1="1410.90" y1="818.00" x2="1410.90" y2="880.00" stroke-width="1.4" />
<line x1="1536.30" y1="818.00" x2="1536.30" y2="880.00" stroke-width="1.4" />
<line x1="1415.40" y1="818.00" x2="1415.40" y2="892.00" stroke-width="2.5" />
<line x1="1530.40" y1="818.00" x2="1530.40" y2="892.00" stroke-width="2.5" />
<path d="M1445.6999999999998,818 C1446.6,840 1447.1,860 1446.6999999999998,880 C1446.3999999999999,895 1445.6,902 1444.6,906.5" stroke-width="2.4" />
<path d="M1500.8999999999999,818 C1500.1,840 1499.6,860 1499.8999999999999,880 C1500.1999999999998,895 1501.1,902 1502.1,906.5" stroke-width="2.4" />
<line x1="1473.60" y1="814.00" x2="1473.60" y2="909.30" stroke-width="2.5" />
<path d="M1410.6,879.5 Q1411.6,881.9 1415.3999999999999,881.9 L1530.3999999999999,881.9 Q1535.6,881.9 1536.6,879.5" stroke-width="2.5" />
<line x1="1415.40" y1="891.00" x2="1530.40" y2="891.00" stroke-width="2.5" />
<path d="M1415.3999999999999,892.5 C1428.6,902 1448.6,909.3 1473.6,909.3 C1498.6,909.3 1518.6,902 1530.3999999999999,892.5" stroke-width="2.4" />
<line x1="1410.60" y1="890.00" x2="1421.20" y2="909.80" stroke-width="1.8" />
<line x1="1415.40" y1="894.00" x2="1430.80" y2="909.30" stroke-width="1.8" />
<line x1="1536.60" y1="890.00" x2="1525.10" y2="909.80" stroke-width="1.8" />
<line x1="1530.40" y1="894.00" x2="1515.50" y2="909.30" stroke-width="1.8" />
<path d="M1431.8,913 L1434.1,924 Q1435.1,928 1437.6,930.5 L1443.3,934.4 L1504.0,934.4 L1509.6,930.5 Q1512.1,928 1513.1,924 L1515.1,913" stroke-width="3.6999999999999997" />
<line x1="1434.10" y1="916.10" x2="1513.10" y2="916.10" stroke-width="1.7" />
<line x1="1436.10" y1="925.70" x2="1511.10" y2="925.70" stroke-width="1.7" />
<line x1="1454.40" y1="935.00" x2="1454.40" y2="968.50" stroke-width="4.3" />
<line x1="1491.00" y1="935.00" x2="1491.00" y2="967.00" stroke-width="4.3" />
<path d="M1452.5,968.6 C1455.6,971.5 1458.6,972.8 1462.1,972.8 C1466.1,972.8 1469.1,971 1472.6,968.5 C1475.6,966 1478.6,964.5 1482.1,964.5 C1485.6,964.5 1488.6,966 1492.8,968 M1472.6,968.5 C1475.6,971 1478.6,972.4 1482.1,972.4 C1485.6,972.4 1488.6,971 1492.8,969" stroke-width="1.9" />
<line x1="1045.00" y1="568.60" x2="1118.00" y2="568.60" stroke-width="1.9" />
<line x1="1045.00" y1="804.20" x2="1118.00" y2="804.20" stroke-width="1.9" />
<line x1="1051.10" y1="568.60" x2="1051.10" y2="804.20" stroke-width="1.9" />
<polygon points="1050.40,568.60 1047.20,590.90 1055.00,590.90 1051.80,568.60" fill="#000" stroke="none"/>
<polygon points="1050.40,804.20 1047.20,781.90 1055.00,781.90 1051.80,804.20" fill="#000" stroke="none"/>
<g transform="translate(1042.80,687.80) rotate(-90) scale(1,1.0)"><text x="-36.90" y="0" font-size="29.5"> 9.95</text><path transform="translate(-36.90,0) scale(29.5)" d="M0.300,0 L0.392,0 L0.392,-0.70 L0.327,-0.70 C0.312,-0.632 0.262,-0.578 0.135,-0.570 L0.135,-0.508 L0.300,-0.508 Z" fill="#000" stroke="none"/></g>
<line x1="1233.90" y1="740.80" x2="1312.60" y2="740.80" stroke-width="1.9" />
<line x1="1340.00" y1="740.80" x2="1406.50" y2="740.80" stroke-width="1.9" />
<line x1="1303.30" y1="740.80" x2="1303.30" y2="828.00" stroke-width="1.9" />
<polygon points="1302.60,740.80 1299.40,763.10 1307.20,763.10 1304.00,740.80" fill="#000" stroke="none"/>
<polygon points="1302.60,828.00 1299.40,805.70 1307.20,805.70 1304.00,828.00" fill="#000" stroke="none"/>
<g transform="translate(1293.80,785.00) rotate(-90) scale(1,1.0)"><text x="-20.50" y="0" font-size="29.5">7.4</text></g>
<line x1="1350.00" y1="740.80" x2="1350.00" y2="828.00" stroke-width="1.9" />
<polygon points="1349.30,740.80 1346.10,763.10 1353.90,763.10 1350.70,740.80" fill="#000" stroke="none"/>
<polygon points="1349.30,828.00 1346.10,805.70 1353.90,805.70 1350.70,828.00" fill="#000" stroke="none"/>
<g transform="translate(1341.30,785.00) rotate(-90) scale(1,1.0)"><text x="-20.50" y="0" font-size="29.5">7.4</text></g>
<text transform="translate(633.54,1094.00) scale(1,1.033)" font-size="41.3" font-weight="bold">E</text>
<text x="661.65" y="1094.00" font-size="41.3" font-weight="bold" letter-spacing="0.562">mitter</text>
<path d="M587.2,1128.1 L832.4,1128.1 Q838.9,1128.1 838.9,1134.6 L838.9,1251.3999999999999 Q838.9,1257.8999999999999 832.4,1257.8999999999999 L587.2,1257.8999999999999 Q585.2,1257.8999999999999 585.2,1255.8999999999999 L585.2,1130.1 Q585.2,1128.1 587.2,1128.1 Z" stroke-width="4.3" />
<line x1="749.20" y1="1129.60" x2="749.20" y2="1256.40" stroke-width="2.1" />
<line x1="587.00" y1="1135.50" x2="749.20" y2="1135.50" stroke-width="2.6" />
<line x1="587.00" y1="1252.00" x2="749.20" y2="1252.00" stroke-width="2.6" />
<path d="M587,1140.8 L636.5,1140.8 Q640,1140.6 641.5,1137.1" stroke-width="1.8" />
<path d="M587,1247.4999999999998 L636.5,1247.4999999999998 Q640,1247.6999999999998 641.5,1251.1999999999998" stroke-width="1.8" />
<line x1="641.80" y1="1140.30" x2="641.80" y2="1247.90" stroke-width="2.0" />
<path d="M641.8,1140.3 L713.2,1140.3 C727,1140.3 733,1153.1 734,1168.1 C735.5,1188.1 735.5,1203.1 734,1227.8999999999999 C733,1239.8999999999999 727,1248.4999999999998 713.2,1248.4999999999998 L641.8,1248.4999999999998" stroke-width="2.0" />
<path d="M775.6,1151.7 L775.6,1175.3" stroke-width="2.2" />
<path d="M775.6,1153.7 L818.5,1155.9 L825.9,1156.5 L825.9,1172.0 L818.5,1172.3 L775.6,1172.9" stroke-width="2.0" />
<line x1="811.20" y1="1155.60" x2="811.20" y2="1172.40" stroke-width="1.8" />
<path d="M818.3,1153.3 L825.9,1156.5 M818.3,1174.7 L825.9,1172.0" stroke-width="1.6" />
<path d="M775.6,1182.4 L775.6,1206.0" stroke-width="2.2" />
<path d="M775.6,1184.4 L818.5,1186.6000000000001 L825.9,1187.2 L825.9,1202.7 L818.5,1203.0 L775.6,1203.6000000000001" stroke-width="2.0" />
<line x1="811.20" y1="1186.30" x2="811.20" y2="1203.10" stroke-width="1.8" />
<path d="M818.3,1184.0 L825.9,1187.2 M818.3,1205.4 L825.9,1202.7" stroke-width="1.6" />
<path d="M775.6,1213.1000000000001 L775.6,1236.7" stroke-width="2.2" />
<path d="M775.6,1215.1000000000001 L818.5,1217.3000000000002 L825.9,1217.9 L825.9,1233.4 L818.5,1233.7 L775.6,1234.3000000000002" stroke-width="2.0" />
<line x1="811.20" y1="1217.00" x2="811.20" y2="1233.80" stroke-width="1.8" />
<path d="M818.3,1214.7 L825.9,1217.9 M818.3,1236.1000000000001 L825.9,1233.4" stroke-width="1.6" />
<text transform="translate(616.34,1359.90) scale(1,1.033)" font-size="41.3" font-weight="bold">R</text>
<text x="646.16" y="1359.90" font-size="41.3" font-weight="bold" letter-spacing="-0.008">eceiver</text>
<path d="M587.2,1395.9 L832.4,1395.9 Q838.9,1395.9 838.9,1402.4 L838.9,1519.2 Q838.9,1525.7 832.4,1525.7 L587.2,1525.7 Q585.2,1525.7 585.2,1523.7 L585.2,1397.9 Q585.2,1395.9 587.2,1395.9 Z" stroke-width="4.3" />
<line x1="749.20" y1="1397.40" x2="749.20" y2="1524.20" stroke-width="2.1" />
<line x1="587.00" y1="1403.30" x2="749.20" y2="1403.30" stroke-width="2.6" />
<line x1="587.00" y1="1519.80" x2="749.20" y2="1519.80" stroke-width="2.6" />
<path d="M587,1408.6000000000001 L636.5,1408.6000000000001 Q640,1408.4 641.5,1404.9" stroke-width="1.8" />
<path d="M587,1515.3 L636.5,1515.3 Q640,1515.5 641.5,1519.0" stroke-width="1.8" />
<line x1="641.80" y1="1408.10" x2="641.80" y2="1515.70" stroke-width="2.0" />
<path d="M641.8,1408.1000000000001 L713.2,1408.1000000000001 C727,1408.1000000000001 733,1420.9 734,1435.9 C735.5,1455.9 735.5,1470.9 734,1495.7 C733,1507.7 727,1516.3 713.2,1516.3 L641.8,1516.3" stroke-width="2.0" />
<path d="M775.6,1419.5000000000002 L775.6,1443.1000000000001" stroke-width="2.2" />
<path d="M775.6,1421.5000000000002 L818.5,1423.7000000000003 L825.9,1424.3000000000002 L825.9,1439.8000000000002 L818.5,1440.1000000000001 L775.6,1440.7000000000003" stroke-width="2.0" />
<line x1="811.20" y1="1423.40" x2="811.20" y2="1440.20" stroke-width="1.8" />
<path d="M818.3,1421.1000000000001 L825.9,1424.3000000000002 M818.3,1442.5000000000002 L825.9,1439.8000000000002" stroke-width="1.6" />
<path d="M775.6,1450.2000000000003 L775.6,1473.8000000000002" stroke-width="2.2" />
<path d="M775.6,1452.2000000000003 L818.5,1454.4000000000003 L825.9,1455.0000000000002 L825.9,1470.5000000000002 L818.5,1470.8000000000002 L775.6,1471.4000000000003" stroke-width="2.0" />
<line x1="811.20" y1="1454.10" x2="811.20" y2="1470.90" stroke-width="1.8" />
<path d="M818.3,1451.8000000000002 L825.9,1455.0000000000002 M818.3,1473.2000000000003 L825.9,1470.5000000000002" stroke-width="1.6" />
<path d="M775.6,1480.9000000000003 L775.6,1504.5000000000002" stroke-width="2.2" />
<path d="M775.6,1482.9000000000003 L818.5,1485.1000000000004 L825.9,1485.7000000000003 L825.9,1501.2000000000003 L818.5,1501.5000000000002 L775.6,1502.1000000000004" stroke-width="2.0" />
<line x1="811.20" y1="1484.80" x2="811.20" y2="1501.60" stroke-width="1.8" />
<path d="M818.3,1482.5000000000002 L825.9,1485.7000000000003 M818.3,1503.9000000000003 L825.9,1501.2000000000003" stroke-width="1.6" />
<path d="M670.5,1454 L670.5,1422 Q670.5,1411 681.5,1411 L716,1411 Q727,1411 727,1422 L727,1455" stroke-width="2.0" />
<circle cx="698.50" cy="1427.40" r="10.10" stroke-width="2.0"/>
<circle cx="698.50" cy="1427.40" r="5.00" stroke-width="2.0"/>
<circle cx="698" cy="1477.4" r="35" stroke-width="2.0" fill="#fff"/>
<circle cx="698.20" cy="1477.50" r="27.40" stroke-width="2.0"/>
<circle cx="698.20" cy="1477.50" r="25.80" stroke-width="1.6"/>
<path d="M704.2,1466.2 L732.6,1477.5 L704.2,1488.8" stroke-width="2.0" />
<rect x="692.90" y="1462.10" width="11.30" height="31.80" rx="2.5" stroke-width="2.0"/>
<rect x="682.60" y="1471.90" width="31.30" height="11.30" rx="2.5" stroke-width="2.0"/>
</svg></body></html>
